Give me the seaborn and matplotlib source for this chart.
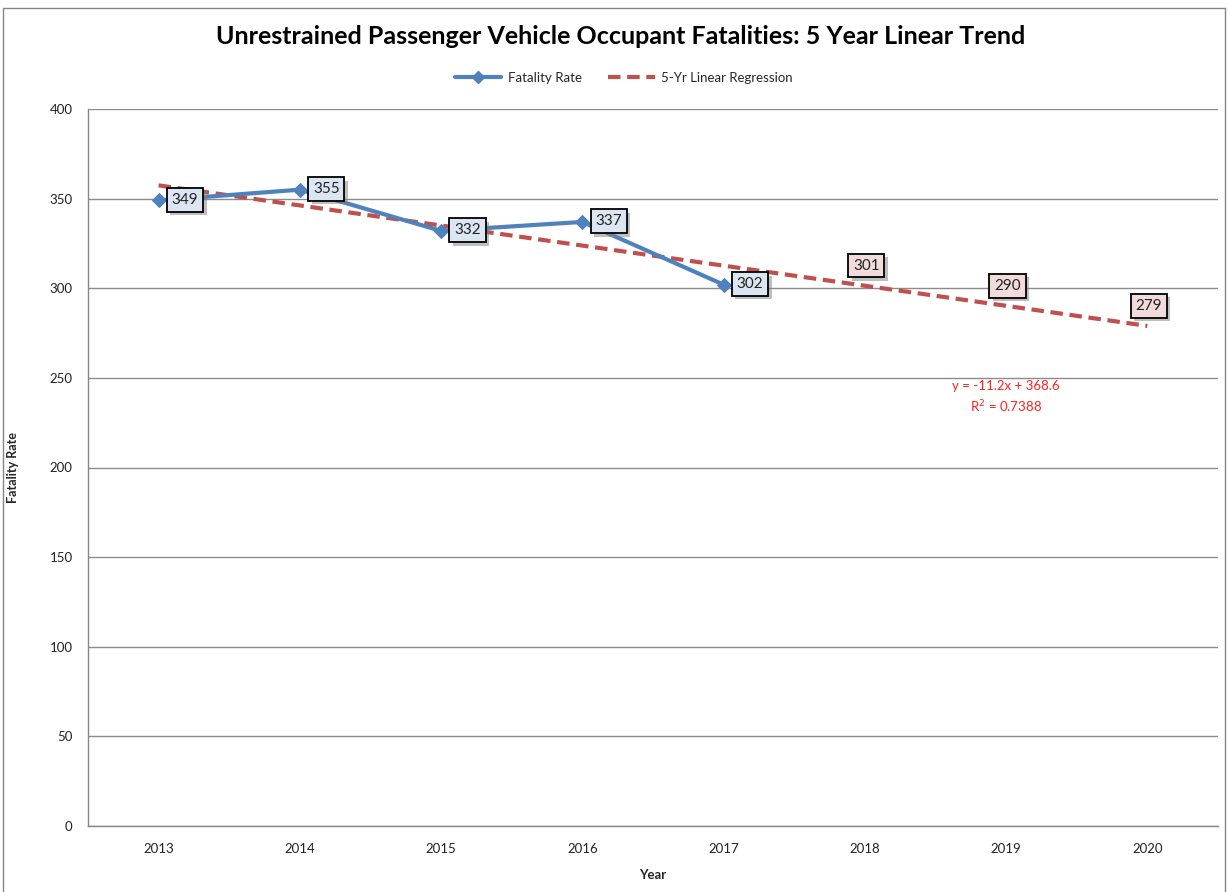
import matplotlib
matplotlib.use("Agg")
import matplotlib.pyplot as plt
import matplotlib.patheffects as pe
import seaborn as sns
import pandas as pd
from matplotlib.lines import Line2D

years = ["2013", "2014", "2015", "2016", "2017", "2018", "2019", "2020"]
fatality_rate = [349, 355, 332, 337, 302]
trend = [357.4, 346.2, 335.0, 323.8, 312.6, 301.4, 290.2, 279.0]
forecast_labels = [301, 290, 279]

sns.set_theme(style="white")
plt.rcParams["font.family"] = ["Lato", "DejaVu Sans"]

blue = "#4f81bd"
red = "#c0504d"

fig = plt.figure(figsize=(12.28, 8.92), dpi=100)
ax = fig.add_axes([88 / 1228, 66 / 892, 1130 / 1228, 717 / 892])

df_rate = pd.DataFrame({"x": range(len(fatality_rate)), "y": fatality_rate})
df_trend = pd.DataFrame({"x": range(len(trend)), "y": trend})

sns.lineplot(data=df_trend, x="x", y="y", ax=ax, color=red, linewidth=3,
             linestyle=(0, (3, 1.6)), zorder=3)
sns.lineplot(data=df_rate, x="x", y="y", ax=ax, color=blue, linewidth=3,
             marker="D", markersize=7, markeredgecolor=blue, zorder=4)


def label(x, y, txt, dx, dy, fc):
    t = ax.annotate(txt, (x, y), xytext=(dx, dy), textcoords="offset points",
                    ha="center", va="center", fontsize=11, color="#222222", zorder=6,
                    bbox=dict(boxstyle="square,pad=0.32", fc=fc, ec="black", lw=1.3))
    t.get_bbox_patch().set_path_effects(
        [pe.withSimplePatchShadow(offset=(2.5, -2.5), shadow_rgbFace="#808080", alpha=0.5)])


for i, v in enumerate(fatality_rate):
    label(i, v, str(v), 19, 0.5, "#dce6f2")
for j, v in enumerate(forecast_labels):
    i = len(trend) - len(forecast_labels) + j
    label(i, trend[i], str(v), 1, 14.5, "#f2dcdb")

ax.text(6.0, 249, "y = -11.2x + 368.6", color="#ff2020", fontsize=9.5,
        ha="center", va="top")
ax.text(6.0, 238.5, "R$^2$ = 0.7388", color="#ff2020", fontsize=9.5,
        ha="center", va="top")

ax.set_xlim(-0.5, len(years) - 0.5)
ax.set_ylim(0, 400)
ax.set_yticks(range(0, 401, 50))
ax.set_xticks(range(len(years)))
ax.set_xticklabels(years)
ax.set_xticks([k - 0.5 for k in range(len(years) + 1)], minor=True)
ax.tick_params(axis="x", which="major", length=0, pad=12, labelsize=9.5, colors="#222222")
ax.tick_params(axis="x", which="minor", length=5, width=1, color="#868686", direction="out")
ax.tick_params(axis="y", length=7, color="#868686", direction="out", labelsize=9.5,
               labelcolor="#222222", pad=4)
ax.grid(axis="y", color="#8c8c8c", linewidth=1)
ax.set_axisbelow(True)
for s in ["top", "right"]:
    ax.spines[s].set_visible(False)
for s in ["left", "bottom"]:
    ax.spines[s].set_color("#868686")
    ax.spines[s].set_linewidth(1)

ax.set_xlabel("Year", fontsize=9.5, fontweight="bold", labelpad=10)
ax.set_ylabel("Fatality Rate", fontsize=9, fontweight="bold", labelpad=22)

fig.text(621 / 1228, 1 - 37 / 892, "Unrestrained Passenger Vehicle Occupant Fatalities: 5 Year Linear Trend",
         ha="center", va="center", fontsize=18, fontweight="bold", color="black")

handles = [Line2D([], [], color=blue, lw=3, marker="D", markersize=6),
           Line2D([], [], color=red, lw=3, linestyle=(0, (3, 1.6)))]
fig.legend(handles, ["Fatality Rate", "5-Yr Linear Regression"], loc="center",
           bbox_to_anchor=(624 / 1228, 1 - 78 / 892), ncol=2, frameon=False,
           fontsize=9.5, handlelength=3.5, columnspacing=2.0, handletextpad=0.5)

fig.add_artist(Line2D([3 / 1228, 3 / 1228], [0, 1 - 8 / 892], color="#868686", lw=1))
fig.add_artist(Line2D([3 / 1228, 1225 / 1228], [1 - 8 / 892, 1 - 8 / 892], color="#868686", lw=1))
fig.add_artist(Line2D([1225 / 1228, 1225 / 1228], [0, 1 - 8 / 892], color="#868686", lw=1))

fig.savefig("out.png", dpi=100)
